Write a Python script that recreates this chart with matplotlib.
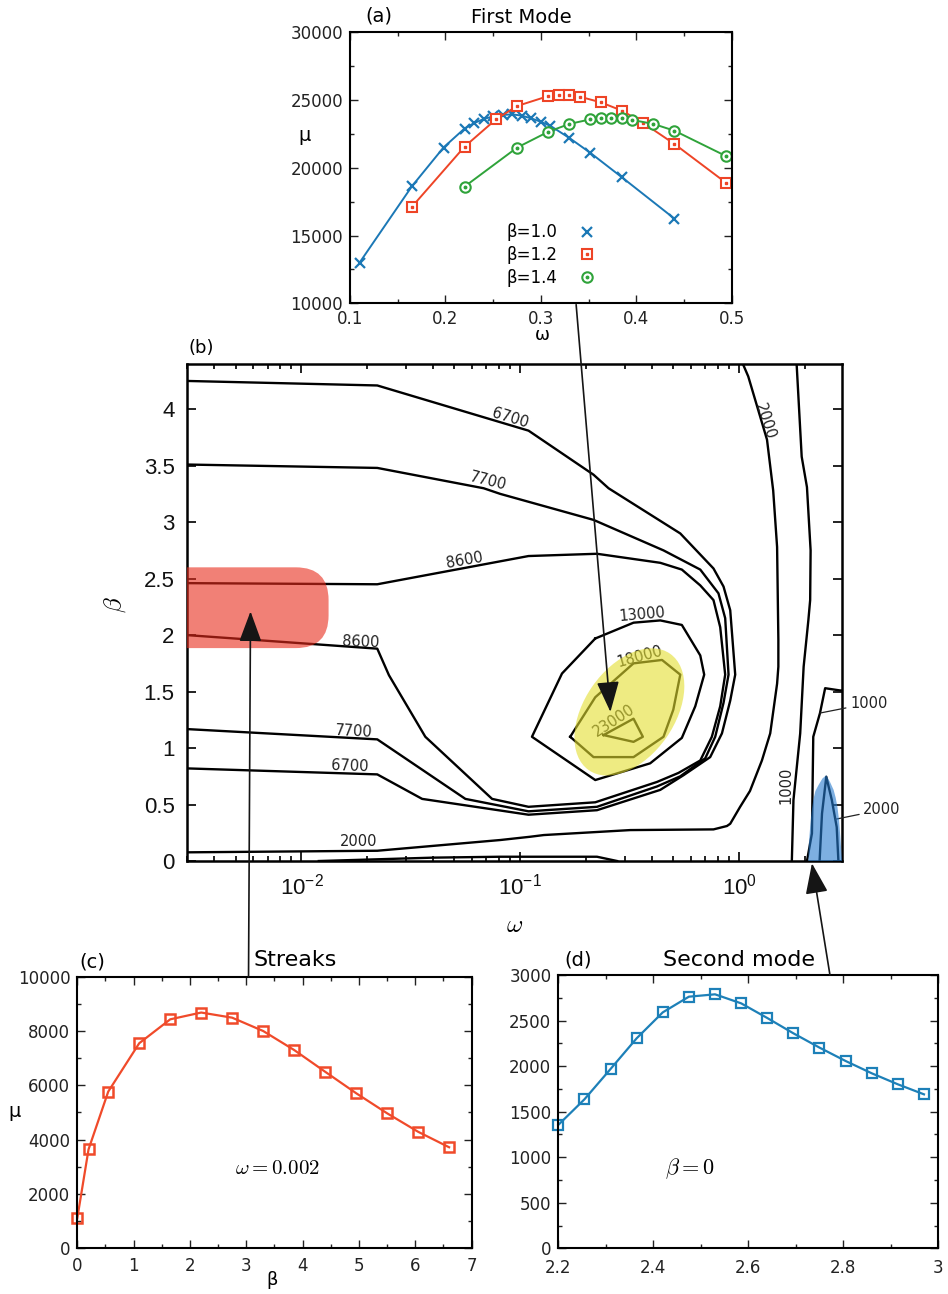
import numpy as np
import matplotlib
matplotlib.use("Agg")
import matplotlib.pyplot as plt
import matplotlib.transforms as mtransforms
from matplotlib.patches import Ellipse, FancyBboxPatch, ConnectionPatch, ArrowStyle
from matplotlib.ticker import MultipleLocator, LogLocator, NullFormatter, FuncFormatter
from matplotlib.lines import Line2D
from matplotlib.legend_handler import HandlerTuple

# ---------------- panel (a): first mode ----------------
omega_b10 = [0.11, 0.165, 0.198, 0.22, 0.23, 0.24, 0.25, 0.26, 0.27, 0.28, 0.29, 0.30, 0.31,
             0.33, 0.352, 0.385, 0.44]
mu_b10 = [13000, 18650, 21500, 22900, 23300, 23600, 23800, 23900, 23950, 23850, 23650, 23400,
          23100, 22200, 21100, 19300, 16250]
omega_b12 = [0.165, 0.22, 0.253, 0.275, 0.308, 0.319, 0.33, 0.341, 0.363, 0.385, 0.407, 0.44, 0.494]
mu_b12 = [17130, 21560, 23580, 24560, 25300, 25350, 25350, 25250, 24830, 24220, 23330, 21760, 18900]
omega_b14 = [0.22, 0.275, 0.308, 0.33, 0.352, 0.363, 0.374, 0.385, 0.396, 0.418, 0.44, 0.494]
mu_b14 = [18610, 21490, 22670, 23240, 23580, 23650, 23700, 23650, 23530, 23240, 22740, 20870]
legend_labels_a = ["β=1.0", "β=1.2", "β=1.4"]

# ---------------- panel (b): iso-lines of mu in (omega, beta) ----------------
c6700_w = [0.003, 0.0222, 0.109, 0.216, 0.253, 0.538, 0.763, 0.848, 0.91, 0.959, 0.91, 0.834,
           0.737, 0.557, 0.436, 0.224, 0.109, 0.0356, 0.0222, 0.003]
c6700_b = [4.25, 4.21, 3.81, 3.42, 3.30, 2.90, 2.59, 2.43, 2.22, 1.65, 1.42, 1.13,
           0.92, 0.76, 0.63, 0.45, 0.41, 0.55, 0.767, 0.82]
c7700_w = [0.003, 0.0222, 0.068, 0.081, 0.216, 0.451, 0.664, 0.804, 0.863, 0.894, 0.848, 0.777,
           0.70, 0.538, 0.421, 0.224, 0.109, 0.0561, 0.0222, 0.003]
c7700_b = [3.51, 3.48, 3.30, 3.25, 3.02, 2.75, 2.58, 2.37, 2.15, 1.65, 1.40, 1.10,
           0.91, 0.75, 0.66, 0.48, 0.44, 0.55, 1.077, 1.168]
c8600_w = [0.003, 0.0222, 0.109, 0.224, 0.436, 0.547, 0.664, 0.763, 0.819, 0.863, 0.819, 0.75,
           0.664, 0.528, 0.421, 0.22, 0.109, 0.0743, 0.0368, 0.0251, 0.0222, 0.003]
c8600_b = [2.46, 2.45, 2.70, 2.72, 2.64, 2.58, 2.44, 2.31, 2.07, 1.65, 1.37, 1.10,
           0.89, 0.78, 0.70, 0.52, 0.48, 0.55, 1.10, 1.645, 1.88, 2.0]
c13000_w = [0.220, 0.329, 0.436, 0.547, 0.664, 0.692, 0.63, 0.547, 0.392, 0.220, 0.113, 0.155, 0.220]
c13000_b = [1.97, 2.11, 2.13, 2.09, 1.82, 1.65, 1.37, 1.09, 0.865, 0.717, 1.10, 1.66, 1.97]
c18000_w = [0.169, 0.220, 0.329, 0.444, 0.538, 0.50, 0.451, 0.329, 0.216, 0.169]
c18000_b = [1.10, 1.45, 1.75, 1.78, 1.65, 1.34, 1.10, 0.92, 0.92, 1.10]
c23000_w = [0.24, 0.329, 0.363, 0.329, 0.24]
c23000_b = [1.115, 1.26, 1.10, 1.055, 1.115]
c2000_w = [1.04, 1.10, 1.34, 1.43, 1.49, 1.51, 1.51, 1.49, 1.386, 1.27, 1.12, 1.01, 0.91,
           0.879, 0.763, 0.318, 0.128, 0.111, 0.081, 0.0222, 0.003]
c2000_b = [4.40, 4.29, 3.73, 3.28, 2.78, 1.96, 1.72, 1.57, 1.13, 0.89, 0.62, 0.48, 0.33,
           0.31, 0.28, 0.274, 0.23, 0.215, 0.186, 0.091, 0.077]
c1000a_w = [1.83, 1.93, 2.04, 2.12, 2.11, 2.07, 1.97, 1.90, 1.77, 1.74]
c1000a_b = [4.40, 3.58, 3.31, 2.75, 2.31, 2.13, 1.72, 1.13, 0.54, 0.0]
c1000b_w = [2.04, 2.15, 2.18, 2.34, 2.47, 2.89, 3.0]
c1000b_b = [0.0, 0.245, 1.10, 1.31, 1.53, 1.51, 1.51]
c2000s_w = [2.33, 2.39, 2.50, 2.65, 2.79, 2.84]
c2000s_b = [0.0, 0.42, 0.746, 0.54, 0.30, 0.0]
cbot_w = [0.012, 0.04, 0.081, 0.224, 0.277]
cbot_b = [0.0, 0.03, 0.038, 0.038, 0.0]

clabel_text = ["6700", "7700", "8600", "8600", "7700", "6700", "2000",
               "13000", "18000", "23000", "2000", "1000"]
clabel_w = [0.090, 0.0711, 0.0555, 0.0187, 0.0174, 0.0167, 0.0182,
            0.36, 0.353, 0.269, 1.31, 1.64]
clabel_b = [3.92, 3.36, 2.66, 1.94, 1.144, 0.843, 0.171,
            2.18, 1.81, 1.24, 3.89, 0.666]
clabel_rot = [-17, -14, 10, -2, -3, -2, 0, 5, 15, 33, -72, 90]

# highlighted regions
red_w = [0.003, 0.0133]
red_b = [1.885, 2.60]
yellow_w, yellow_b = 0.315, 1.32
blue_w = [2.07, 2.08, 2.11, 2.14, 2.18, 2.23, 2.30, 2.40, 2.50, 2.60, 2.70, 2.76, 2.81,
          2.86, 2.89, 2.92, 2.95]
blue_b = [0.0, 0.15, 0.30, 0.43, 0.54, 0.62, 0.67, 0.73, 0.76, 0.70, 0.63, 0.56, 0.48,
          0.36, 0.245, 0.12, 0.0]

# ---------------- panel (c): streaks ----------------
beta_c = [0, 0.2, 0.55, 1.1, 1.65, 2.2, 2.75, 3.3, 3.85, 4.4, 4.95, 5.5, 6.05, 6.6]
mu_c = [1100, 3640, 5770, 7550, 8430, 8680, 8490, 8000, 7300, 6500, 5710, 4970, 4290, 3720]

# ---------------- panel (d): second mode ----------------
omega_d = [2.2, 2.255, 2.31, 2.365, 2.42, 2.475, 2.53, 2.585, 2.64, 2.695, 2.75, 2.805, 2.86,
           2.915, 2.97]
mu_d = [1354, 1635, 1968, 2305, 2590, 2762, 2788, 2689, 2528, 2360, 2203, 2056, 1921, 1800, 1690]

# =====================================================================
plt.rcParams['font.family'] = ['DejaVu Sans']
plt.rcParams['axes.linewidth'] = 1.5

BLUE = '#1b78b6'
RED = '#ee4426'
GREEN = '#2fa33a'
gfmt = FuncFormatter(lambda v, p: f'{v:g}')

fig = plt.figure(figsize=(9.48, 12.94), dpi=100)


def style_small(ax, xmaj, xmin, ymaj, ymin, xpad=5):
    ax.xaxis.set_major_locator(MultipleLocator(xmaj))
    ax.xaxis.set_minor_locator(MultipleLocator(xmin))
    ax.yaxis.set_major_locator(MultipleLocator(ymaj))
    ax.yaxis.set_minor_locator(MultipleLocator(ymin))
    ax.xaxis.set_major_formatter(gfmt)
    ax.yaxis.set_major_formatter(gfmt)
    ax.tick_params(which='both', direction='in', top=True, right=True, width=1.0,
                   labelsize=12, colors='#222222')
    ax.tick_params(which='major', length=5.5, pad=5)
    ax.tick_params(axis='x', which='major', pad=xpad)
    ax.tick_params(which='minor', length=3)


# ---------------- (a) ----------------
ax_a = fig.add_axes([0.3692, 0.7656, 0.4026, 0.2094])
ax_a.plot(omega_b10, mu_b10, color=BLUE, lw=1.4, marker='x', ms=7, mew=1.6, clip_on=False)
ax_a.plot(omega_b12, mu_b12, color=RED, lw=1.4, marker='s', ms=7.5, mfc='white', mew=1.5, clip_on=False)
ax_a.plot(omega_b12, mu_b12, ls='none', marker='s', ms=1.8, color=RED, clip_on=False)
ax_a.plot(omega_b14, mu_b14, color=GREEN, lw=1.4, marker='o', ms=7.5, mfc='white', mew=1.5, clip_on=False)
ax_a.plot(omega_b14, mu_b14, ls='none', marker='o', ms=1.8, color=GREEN, clip_on=False)
ax_a.set_xlim(0.1, 0.5)
ax_a.set_ylim(10000, 30000)
style_small(ax_a, 0.1, 0.05, 5000, 2500)
ax_a.set_xlabel("ω", fontsize=13, va='center')
ax_a.xaxis.set_label_coords(0.503, -0.117)
ax_a.text(-0.118, 0.621, "μ", transform=ax_a.transAxes, fontsize=14, ha='center', va='center')
ax_a.text(0.076, 1.060, "(a)", transform=ax_a.transAxes, fontsize=14, ha='center', va='center')
ax_a.text(0.448, 1.053, "First Mode", transform=ax_a.transAxes, fontsize=14, ha='center', va='center')

h1 = Line2D([], [], ls='none', marker='x', ms=7, mew=1.6, color=BLUE)
h2 = (Line2D([], [], ls='none', marker='s', ms=7.5, mfc='none', mew=1.5, color=RED),
      Line2D([], [], ls='none', marker='s', ms=1.8, color=RED))
h3 = (Line2D([], [], ls='none', marker='o', ms=7.5, mfc='none', mew=1.5, color=GREEN),
      Line2D([], [], ls='none', marker='o', ms=1.8, color=GREEN))
ax_a.legend([h1, h2, h3], legend_labels_a, markerfirst=False, frameon=False,
            loc='center left', bbox_to_anchor=(0.37, 0.178), fontsize=12,
            handlelength=1.6, handletextpad=1.0, labelspacing=0.28,
            handler_map={tuple: HandlerTuple(ndivide=1, pad=0)})

# ---------------- (b) ----------------
ax_b = fig.add_axes([0.1973, 0.3346, 0.6909, 0.3841])
ax_b.set_xscale('log')
ax_b.set_xlim(0.003, 2.95)
ax_b.set_ylim(0, 4.4)
for w, b in [(c6700_w, c6700_b), (c7700_w, c7700_b), (c8600_w, c8600_b), (c13000_w, c13000_b),
             (c18000_w, c18000_b), (c23000_w, c23000_b), (c2000_w, c2000_b),
             (c1000a_w, c1000a_b), (c1000b_w, c1000b_b), (c2000s_w, c2000s_b), (cbot_w, cbot_b)]:
    ax_b.plot(w, b, color='black', lw=1.7, zorder=2)
for t, w, b, r in zip(clabel_text, clabel_w, clabel_b, clabel_rot):
    ax_b.text(w, b, t, fontsize=10.5, rotation=r, ha='center', va='center',
              rotation_mode='anchor', color='#222222', zorder=2)

ax_b.annotate("1000", xy=(c1000b_w[3], c1000b_b[3]), xytext=(3.21, 1.395), textcoords='data',
              ha='left', va='center', fontsize=10.5, color='#222222', annotation_clip=False,
              arrowprops=dict(arrowstyle='-', lw=0.9, color='#222222', shrinkA=1, shrinkB=0))
ax_b.annotate("2000", xy=(2.74, 0.369), xytext=(3.69, 0.454), textcoords='data',
              ha='left', va='center', fontsize=10.5, color='#222222', annotation_clip=False,
              arrowprops=dict(arrowstyle='-', lw=0.9, color='#222222', shrinkA=1, shrinkB=0))

# highlight patches
data2ax = ax_b.transData + ax_b.transAxes.inverted()
(rx0, ry0), (rx1, ry1) = data2ax.transform([(red_w[0], red_b[0]), (red_w[1], red_b[1])])
bb = ax_b.get_position()
aspect = (bb.width * fig.get_figwidth()) / (bb.height * fig.get_figheight())
red_box = FancyBboxPatch((rx0 - 0.1, ry0), rx1 - rx0 + 0.1, ry1 - ry0,
                         boxstyle='round,pad=0,rounding_size=0.05', mutation_aspect=aspect,
                         transform=ax_b.transAxes, fc='#e92b1b', ec='none', alpha=0.6, zorder=3)
ax_b.add_artist(red_box)

ell = Ellipse((0, 0), width=1.42, height=0.90, angle=55,
              transform=fig.dpi_scale_trans + mtransforms.ScaledTranslation(yellow_w, yellow_b, ax_b.transData),
              fc='#e3de2f', ec='none', alpha=0.6, zorder=3)
ax_b.add_artist(ell)
ax_b.fill(blue_w, blue_b, color='#267acd', alpha=0.6, lw=0, zorder=3)

ax_b.xaxis.set_major_locator(LogLocator(base=10, numticks=10))
ax_b.xaxis.set_minor_locator(LogLocator(base=10, subs=np.arange(2, 10), numticks=20))
ax_b.xaxis.set_minor_formatter(NullFormatter())
ax_b.yaxis.set_major_locator(MultipleLocator(0.5))
ax_b.yaxis.set_major_formatter(gfmt)
ax_b.tick_params(which='both', direction='in', top=True, right=True, width=1.3, colors='#111111')
ax_b.tick_params(which='major', length=6.5, labelsize=16, pad=9)
ax_b.tick_params(which='minor', length=3.5)
for s in ax_b.spines.values():
    s.set_linewidth(1.8)
for lab in ax_b.get_xticklabels() + ax_b.get_yticklabels():
    lab.set_fontfamily('Liberation Sans')
ax_b.set_xlabel(r"$\omega$", fontsize=18, va='center', math_fontfamily='cm')
ax_b.xaxis.set_label_coords(0.5008, -0.129)
ax_b.set_ylabel(r"$\beta$", fontsize=18, va='center', math_fontfamily='cm')
ax_b.yaxis.set_label_coords(-0.110, 0.515)
ax_b.text(0.021, 1.032, "(b)", transform=ax_b.transAxes, fontsize=13, ha='center', va='center')

# ---------------- (c) ----------------
ax_c = fig.add_axes([0.0815, 0.03532, 0.4160, 0.2099])
ax_c.plot(beta_c, mu_c, color='#f04a2a', lw=1.6, marker='s', ms=7.5, mfc='none', mew=1.8, clip_on=False)
ax_c.set_xlim(0, 7)
ax_c.set_ylim(0, 10000)
style_small(ax_c, 1, 0.5, 2000, 1000, xpad=6)
ax_c.set_xlabel("β", fontsize=13, va='center')
ax_c.xaxis.set_label_coords(0.494, -0.117)
ax_c.text(-0.158, 0.502, "μ", transform=ax_c.transAxes, fontsize=14, ha='center', va='center')
ax_c.text(0.037, 1.054, "(c)", transform=ax_c.transAxes, fontsize=14, ha='center', va='center')
ax_c.text(0.552, 1.061, "Streaks", transform=ax_c.transAxes, fontsize=16, ha='center', va='center')
ax_c.text(3.56, 2950, r"$\omega = 0.002$", fontsize=15, ha='center', va='center', math_fontfamily='cm')

# ---------------- (d) ----------------
ax_d = fig.add_axes([0.5889, 0.03532, 0.4008, 0.2112])
ax_d.plot(omega_d, mu_d, color='#1d80b8', lw=1.6, marker='s', ms=7.5, mfc='none', mew=1.6, clip_on=False)
ax_d.set_xlim(2.2, 3.0)
ax_d.set_ylim(0, 3000)
style_small(ax_d, 0.2, 0.1, 500, 250, xpad=8)
ax_d.text(0.052, 1.055, "(d)", transform=ax_d.transAxes, fontsize=14, ha='center', va='center')
ax_d.text(0.475, 1.055, "Second mode", transform=ax_d.transAxes, fontsize=16, ha='center', va='center')
ax_d.text(2.477, 878, r"$\beta = 0$", fontsize=16, ha='center', va='center', math_fontfamily='cm')

# ---------------- connecting arrows ----------------
astyle = ArrowStyle('-|>', head_length=0.95, head_width=0.35)
arrows = [
    ((0.337, 9900), ax_a, (0.258, 1.32), ax_b),
    ((3.04, 10000), ax_c, (0.00585, 2.21), ax_b),
    ((2.772, 3000), ax_d, (2.15, -0.02), ax_b),
]
for xyA, axA, xyB, axB in arrows:
    con = ConnectionPatch(xyA=xyA, coordsA=axA.transData, xyB=xyB, coordsB=axB.transData,
                          arrowstyle=astyle, mutation_scale=20, lw=1.2, color='#151515',
                          shrinkA=0, shrinkB=0, zorder=20)
    fig.add_artist(con)

fig.savefig("out.png", dpi=100)
